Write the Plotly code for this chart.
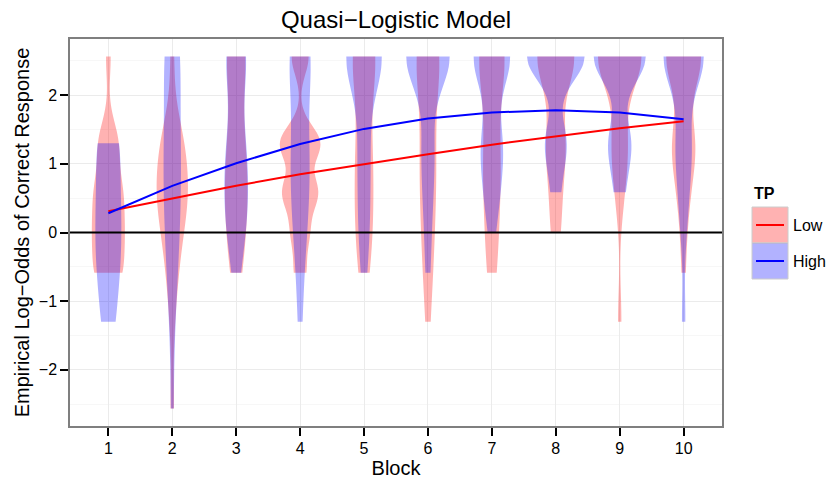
import numpy as np
import plotly.graph_objects as go

# ---------------- data ----------------
blocks = [1, 2, 3, 4, 5, 6, 7, 8, 9, 10]
# possible empirical log-odds values (6 trials per block)
levels = [-2.565, -1.299, -0.588, 0.0, 0.588, 1.299, 2.565]
# number of subjects at each level, per block (rows) -- TP = Low
low_counts = [
    [0, 0, 5, 5, 5, 4, 1],
    [1, 1, 2, 3, 6, 5, 1],
    [0, 0, 2, 3, 4, 4, 6],
    [0, 0, 2, 3, 6, 7, 3],
    [0, 0, 2, 3, 3, 4, 8],
    [0, 1, 2, 2, 3, 4, 9],
    [0, 0, 2, 2, 3, 4, 9],
    [0, 0, 0, 2, 2, 5, 11],
    [0, 1, 0, 0, 2, 4, 13],
    [0, 0, 1, 1, 3, 7, 12],
]
# TP = High
high_counts = [
    [0, 3, 4, 4, 4, 5, 0],
    [1, 1, 2, 2, 3, 4, 6],
    [0, 0, 1, 3, 4, 4, 6],
    [0, 1, 1, 2, 3, 4, 7],
    [0, 0, 1, 2, 2, 3, 12],
    [0, 0, 1, 1, 2, 3, 13],
    [0, 0, 0, 1, 3, 5, 10],
    [0, 0, 0, 0, 2, 5, 14],
    [0, 0, 0, 0, 2, 5, 12],
    [0, 1, 0, 1, 2, 4, 12],
]
# quasi-logistic model fit
low_fit = [0.31, 0.50, 0.68, 0.85, 1.00, 1.14, 1.28, 1.40, 1.52, 1.62]
high_fit = [0.28, 0.68, 1.01, 1.29, 1.51, 1.66, 1.75, 1.78, 1.75, 1.65]
hline_y = 0
group_names = ["Low", "High"]

# ---------------- styling ----------------
FONT = "Liberation Sans, Arial, Helvetica, sans-serif"
fills = {"Low": "rgba(255,0,0,0.3)", "High": "rgba(0,0,255,0.3)"}
lines = {"Low": "#FF0000", "High": "#0000FF"}
MAXW = 0.9


def bw_nrd0(x):
    hi = x.std(ddof=1)
    q75, q25 = np.percentile(x, [75, 25])
    lo = min(hi, (q75 - q25) / 1.34)
    if lo <= 0:
        lo = hi if hi > 0 else (abs(x[0]) if x[0] != 0 else 1.0)
    return 0.9 * lo * len(x) ** -0.2


def peak_density(x, bw):
    grid = np.linspace(x.min(), x.max(), 512)
    d = np.exp(-0.5 * ((grid[:, None] - x[None, :]) / bw) ** 2).sum(1)
    d /= len(x) * bw * np.sqrt(2 * np.pi)
    return d.max()


specs = []
for name, counts in (("Low", low_counts), ("High", high_counts)):
    for b, row in zip(blocks, counts):
        vals = np.repeat(np.array(levels), row)
        bw = bw_nrd0(vals)
        specs.append((name, b, vals, bw, peak_density(vals, bw)))
gmax = max(s[4] for s in specs)

fig = go.Figure()
for name, b, vals, bw, pk in specs:
    fig.add_trace(go.Violin(
        x=[b] * len(vals), y=vals,
        width=MAXW * pk / gmax,
        bandwidth=bw, spanmode="hard",
        scalemode="width", scalegroup=f"{name}{b}",
        fillcolor=fills[name],
        line=dict(width=0, color="rgba(0,0,0,0)"),
        points=False, showlegend=False, hoverinfo="skip",
        name=name,
    ))

for name, fit in (("Low", low_fit), ("High", high_fit)):
    fig.add_trace(go.Scatter(
        x=blocks, y=fit, mode="lines", name=name,
        line=dict(color=lines[name], width=2),
        showlegend=False, hoverinfo="skip",
    ))

# geom_hline(yintercept = 0)
fig.add_shape(type="line", xref="x domain", x0=0, x1=1, yref="y",
              y0=hline_y, y1=hline_y, line=dict(color="black", width=2),
              layer="above")

# ---------------- manual ggplot-like legend ----------------
L, R, T, B = 70, 108, 39, 55
W, H = 830 - L - R, 481 - T - B


def px(X):
    return (X - L) / W


def py(Y):
    return (T + H - Y) / H


key_x0, key_x1 = 752, 788
key_top, key_h = 207, 36
for i, name in enumerate(group_names):
    y0 = key_top + i * key_h
    fig.add_shape(type="rect", xref="paper", yref="paper",
                  x0=px(key_x0), x1=px(key_x1), y0=py(y0), y1=py(y0 + key_h),
                  fillcolor=fills[name], line=dict(color="#CCCCCC", width=1))
    fig.add_shape(type="line", xref="paper", yref="paper",
                  x0=px(key_x0 + 4), x1=px(key_x1 - 4),
                  y0=py(y0 + key_h / 2), y1=py(y0 + key_h / 2),
                  line=dict(color=lines[name], width=2))
    fig.add_annotation(xref="paper", yref="paper", x=px(key_x1 + 3),
                       y=py(y0 + key_h / 2), text=name, showarrow=False,
                       xanchor="left", yanchor="middle",
                       font=dict(family=FONT, size=16, color="black"))
fig.add_annotation(xref="paper", yref="paper", x=px(key_x0), y=py(193),
                   text="<b>TP</b>", showarrow=False, xanchor="left",
                   yanchor="middle", font=dict(family=FONT, size=16, color="black"))

fig.update_layout(
    width=830, height=481,
    margin=dict(l=L, r=R, t=T, b=B, autoexpand=False),
    paper_bgcolor="white", plot_bgcolor="white",
    violinmode="overlay",
    showlegend=False,
    font=dict(family=FONT, color="black"),
    title=dict(text="Quasi\u2212Logistic Model", x=0.5, xref="paper",
               y=1 - 20 / 481, yref="container", yanchor="middle",
               xanchor="center", font=dict(family=FONT, size=24, color="black")),
)
fig.update_xaxes(
    range=[0.4, 10.6], tickmode="array", tickvals=blocks,
    ticktext=[str(b) for b in blocks], automargin=False,
    showgrid=True, gridcolor="#EBEBEB", gridwidth=1,
    zeroline=False, showline=True, mirror=True, linecolor="#7F7F7F", linewidth=1.5,
    ticks="outside", ticklen=8, tickwidth=2, tickcolor="black",
    ticklabelstandoff=-1,
    tickfont=dict(family=FONT, size=16, color="black"),
    title=dict(text="Block", font=dict(family=FONT, size=20, color="black"), standoff=5),
)
fig.update_yaxes(
    range=[-2.82, 2.82], tickmode="array", tickvals=[-2, -1, 0, 1, 2],
    automargin=False,
    showgrid=True, gridcolor="#EBEBEB", gridwidth=1,
    minor=dict(tickmode="array", tickvals=[-2.5, -1.5, -0.5, 0.5, 1.5, 2.5],
               showgrid=True, gridcolor="#F7F7F7", ticks=""),
    zeroline=False, showline=True, mirror=True, linecolor="#7F7F7F", linewidth=1.5,
    ticks="outside", ticklen=8, tickwidth=2, tickcolor="black",
    tickfont=dict(family=FONT, size=16, color="black"),
    title=dict(text="Empirical Log\u2212Odds of Correct Response",
               font=dict(family=FONT, size=20, color="black"), standoff=4),
)

fig.write_html("out.html")
